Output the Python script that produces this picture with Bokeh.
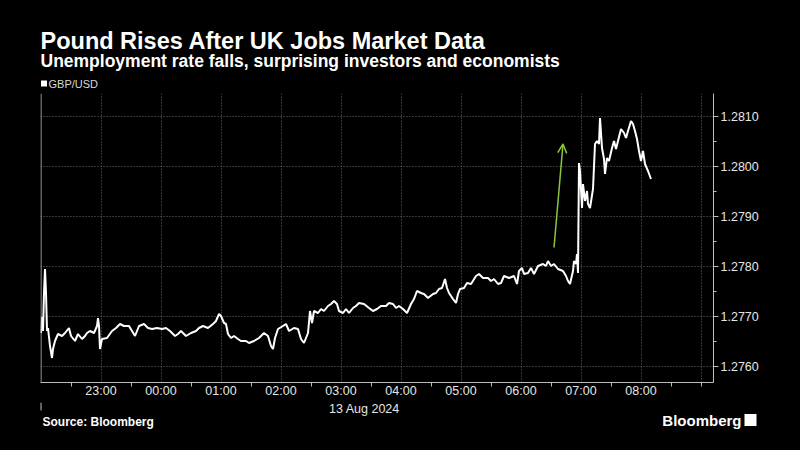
import pandas as pd
from bokeh.plotting import figure
from bokeh.layouts import column
from bokeh.models import (Range1d, FixedTicker, DatetimeTickFormatter, PrintfTickFormatter,
                          Label, Arrow, OpenHead, Span)
from bokeh.embed import file_html
from bokeh.resources import INLINE

# ---------------- data (GBP/USD, 12-13 Aug 2024) ----------------
times = ["22:00","22:01","22:02","22:03","22:04","22:05","22:06","22:07","22:09","22:11",
         "22:12","22:14","22:17","22:21","22:24","22:28","22:30","22:34","22:37","22:41",
         "22:44","22:46","22:49","22:53","22:56","22:57","22:58","22:59","23:01","23:06",
         "23:11","23:15","23:19","23:23","23:28","23:31","23:34","23:38","23:43","23:47",
         "23:51","23:56","00:01","00:05","00:09","00:14","00:17","00:20","00:25","00:30",
         "00:35","00:38","00:42","00:47","00:52","00:55","00:58","01:00","01:03","01:05",
         "01:07","01:10","01:13","01:17","01:20","01:25","01:28","01:33","01:38","01:43",
         "01:47","01:50","01:52","01:54","01:57","02:02","02:05","02:08","02:13","02:17",
         "02:20","02:23","02:25","02:27","02:29","02:31","02:33","02:37","02:40","02:43",
         "02:47","02:50","02:53","02:56","02:58","03:02","03:05","03:08","03:12","03:15",
         "03:18","03:23","03:28","03:32","03:36","03:40","03:45","03:48","03:52","03:55",
         "03:58","04:02","04:06","04:10","04:13","04:16","04:20","04:23","04:27","04:32",
         "04:35","04:38","04:41","04:44","04:46","04:48","04:52","04:55","04:57","04:59",
         "05:03","05:06","05:10","05:15","05:18","05:22","05:27","05:30","05:33","05:37",
         "05:40","05:43","05:48","05:53","05:56","05:58","06:01","06:03","06:07","06:10",
         "06:13","06:17","06:22","06:25","06:27","06:30","06:33","06:37","06:42","06:45",
         "06:47","06:49","06:52","06:53","06:55","06:56","06:57","06:58","06:59","07:01",
         "07:02","07:04","07:06","07:07","07:09","07:12","07:14","07:16","07:18","07:19",
         "07:21","07:23","07:24","07:26","07:28","07:31","07:33","07:35","07:37","07:40",
         "07:43","07:45","07:47","07:50","07:52","07:54","07:56","07:58","08:00","08:02",
         "08:04","08:07","08:10"]
prices = [1.27667,1.27699,1.27671,1.27747,1.27795,1.27747,1.27671,1.27677,1.27641,1.27617,
          1.27635,1.27651,1.27665,1.27661,1.27667,1.27677,1.27661,1.27651,1.27665,1.27655,
          1.27661,1.27667,1.27671,1.27667,1.27681,1.27697,1.27681,1.27635,1.27655,1.27657,
          1.27671,1.27677,1.27685,1.27681,1.27681,1.27671,1.27661,1.27681,1.27685,1.27677,
          1.27675,1.27677,1.27675,1.27677,1.27671,1.27661,1.27665,1.27671,1.27661,1.27667,
          1.27671,1.27677,1.27681,1.27677,1.27685,1.27691,1.27705,1.27701,1.27687,1.27685,
          1.27665,1.27657,1.27661,1.27655,1.27651,1.27651,1.27647,1.27651,1.27657,1.27667,
          1.27661,1.27641,1.27635,1.27657,1.27675,1.27681,1.27685,1.27671,1.27677,1.27675,
          1.27655,1.27647,1.27657,1.27667,1.27711,1.27687,1.27711,1.27707,1.27715,1.27711,
          1.27721,1.27725,1.27731,1.27725,1.27711,1.27707,1.27715,1.27707,1.27717,1.27721,
          1.27727,1.27725,1.27717,1.27711,1.27715,1.27721,1.27721,1.27727,1.27725,1.27717,
          1.27721,1.27715,1.27707,1.27725,1.27735,1.27751,1.27747,1.27745,1.27737,1.27745,
          1.27747,1.27755,1.27757,1.27775,1.27757,1.27747,1.27735,1.27727,1.27745,1.27755,
          1.27757,1.27767,1.27765,1.27781,1.27785,1.27777,1.27777,1.27771,1.27775,1.27765,
          1.27767,1.27781,1.27777,1.27781,1.27765,1.27791,1.27797,1.27785,1.27787,1.27797,
          1.27785,1.27801,1.27805,1.27801,1.27811,1.27801,1.27805,1.27795,1.27791,1.27781,
          1.27771,1.27765,1.27791,1.27811,1.27805,1.27825,1.27787,1.28007,1.27991,1.27917,
          1.27965,1.27931,1.27951,1.27925,1.27917,1.27955,1.28045,1.28051,1.28045,1.28097,
          1.28037,1.28015,1.27985,1.28017,1.28011,1.28037,1.28051,1.28035,1.28051,1.28075,
          1.28067,1.28057,1.28071,1.28091,1.28085,1.28071,1.28055,1.28031,1.28011,1.28031,
          1.28005,1.27991,1.27975]

y_ticks = [1.2760, 1.2770, 1.2780, 1.2790, 1.2800, 1.2810]
x_tick_hours = ["23:00","00:00","01:00","02:00","03:00","04:00","05:00","06:00","07:00","08:00"]
arrow_from = ("06:33", 1.27838)
arrow_to = ("06:42", 1.28045)

title = "Pound Rises After UK Jobs Market Data"
subtitle = "Unemployment rate falls, surprising investors and economists"
series_name = "GBP/USD"
date_label = "13 Aug 2024"
source = "Source: Bloomberg"
brand = "Bloomberg"

# ---------------- helpers ----------------
def ts(hhmm):
    day = "2024-08-12" if hhmm >= "22:00" else "2024-08-13"
    return pd.Timestamp(f"{day} {hhmm}")

def ms(t):
    return t.value / 1e6

x = [ts(t) for t in times]
FONT = "Liberation Sans"
BG = "black"
AXIS_C = "#bdbdbd"
TEXT_C = "#e6e6e6"

def blank_fig(h, y0, y1):
    f = figure(width=800, height=h, x_range=Range1d(0, 800), y_range=Range1d(y1, y0),
               output_backend="svg", toolbar_location=None, frame_align=False,
               min_border=0, min_border_left=0, min_border_right=0,
               min_border_top=0, min_border_bottom=0)
    f.axis.visible = False
    f.grid.visible = False
    f.background_fill_color = BG
    f.border_fill_color = BG
    f.outline_line_color = None
    return f

def lab(f, x, y, text, size, color="white", bold=False, align="left", baseline="middle", font=FONT):
    f.add_layout(Label(x=x, y=y, text=text, text_font=font, text_font_size=size,
                       text_color=color, text_font_style="bold" if bold else "normal",
                       text_align=align, text_baseline=baseline))

# ---------------- header ----------------
head = blank_fig(93, 0, 93)
lab(head, 40, 40, title, "23.5px", bold=True)
lab(head, 40, 60.5, subtitle, "17.5px", bold=True)
head.rect(x=[43.5], y=[83], width=[6], height=[6], fill_color="white", line_color=None)
lab(head, 48, 83.5, series_name, "11px", color="#d9d9d9")

# ---------------- main chart ----------------
start = ts("22:00") - pd.Timedelta(seconds=30)
end = start + pd.Timedelta(minutes=673)
BOTTOM = 20

p = figure(width=800, height=289 + BOTTOM, x_axis_type="datetime", y_axis_location="right",
           x_range=Range1d(start, end), y_range=Range1d(1.27568, 1.27568 + 289 / 50000),
           output_backend="svg", toolbar_location=None, frame_align=False,
           min_border_left=40, min_border_right=87, min_border_top=0, min_border_bottom=BOTTOM)
p.background_fill_color = BG
p.border_fill_color = BG
p.outline_line_color = None

hour_ms = [ms(ts(h)) for h in x_tick_hours]
half_ms = [ms(ts(h) - pd.Timedelta(minutes=30)) for h in x_tick_hours] + \
          [ms(ts("08:30")), ms(ts("09:00"))]

xa = p.xaxis[0]
xa.ticker = FixedTicker(ticks=hour_ms, minor_ticks=half_ms)
xa.formatter = DatetimeTickFormatter(hours="%H:%M", hourmin="%H:%M", minutes="%H:%M",
                                     days="%H:%M", minsec="%H:%M")
xa.major_tick_out = 0
xa.major_tick_in = 0
xa.minor_tick_out = 4
xa.minor_tick_in = 0
xa.axis_line_color = AXIS_C
xa.minor_tick_line_color = AXIS_C
xa.major_label_standoff = -3
xa.major_label_text_color = TEXT_C
xa.major_label_text_font = FONT
xa.major_label_text_font_size = "12.5px"

ya = p.yaxis[0]
ya.ticker = FixedTicker(ticks=y_ticks, minor_ticks=[1.2755 + 0.0005 * i for i in range(13)])
ya.formatter = PrintfTickFormatter(format="%.4f")
ya.major_tick_out = 5
ya.major_tick_in = 0
ya.minor_tick_out = 3
ya.minor_tick_in = 0
ya.axis_line_color = AXIS_C
ya.major_tick_line_color = AXIS_C
ya.minor_tick_line_color = AXIS_C
ya.major_label_text_color = TEXT_C
ya.major_label_text_font = FONT
ya.major_label_text_font_size = "12.5px"
ya.major_label_standoff = 2

p.xgrid.ticker = FixedTicker(ticks=[ms(ts(h)) for h in x_tick_hours + ["09:00"]])
for g in (p.xgrid[0], p.ygrid[0]):
    g.grid_line_color = "#6a6a6a"
    g.grid_line_dash = "1 2"
    g.grid_line_width = 1

p.add_layout(Span(location=ts("22:00"), dimension="height", line_color=AXIS_C, line_width=1))

p.line(x, prices, line_color="white", line_width=2)

p.add_layout(Arrow(end=OpenHead(size=9, line_color="#8cc63f", line_width=1.5),
                   x_start=ts(arrow_from[0]), y_start=arrow_from[1],
                   x_end=ts(arrow_to[0]), y_end=arrow_to[1],
                   line_color="#8cc63f", line_width=1.5))

# ---------------- footer ----------------
FOOT_TOP = 93 + 289 + BOTTOM
foot = blank_fig(450 - FOOT_TOP, FOOT_TOP, 450)
foot.segment(x0=[40.5], y0=[FOOT_TOP], x1=[40.5], y1=[410], line_color=AXIS_C, line_width=1)
lab(foot, 364, 408.5, date_label, "12.5px", color=TEXT_C, align="center")
lab(foot, 42, 421, source, "12px", bold=True)
lab(foot, 741, 420, brand, "15px", bold=True, align="right")
foot.quad(left=[744], right=[756], top=[413.5], bottom=[425.5], fill_color="white", line_color=None)

layout = column(head, p, foot, spacing=0)
html = file_html(layout, INLINE)
html = html.replace("</head>", "<style>html,body{background-color:#000000;}</style></head>", 1)
open("out.html", "w").write(html)
